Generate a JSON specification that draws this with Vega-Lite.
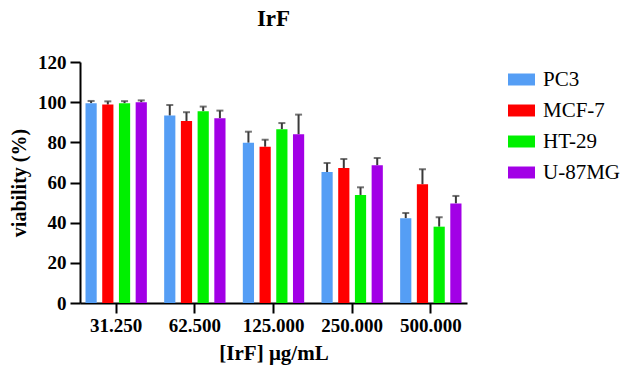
{
  "$schema": "https://vega.github.io/schema/vega-lite/v6.json",
  "autosize": {"type": "none"},
  "width": 387,
  "height": 241,
  "padding": {"left": 80, "top": 62, "right": 161, "bottom": 64},
  "title": {"text": "IrF", "font": "Liberation Serif", "fontSize": 23, "fontWeight": "bold", "color": "black", "anchor": "middle", "frame": "group", "baseline": "bottom", "offset": -1},
  "data": {
    "values": [
      {"conc": "31.250", "cell": "PC3", "v": 99.5, "hi": 100.6},
      {"conc": "31.250", "cell": "MCF-7", "v": 98.8, "hi": 100.4},
      {"conc": "31.250", "cell": "HT-29", "v": 99.5, "hi": 100.5},
      {"conc": "31.250", "cell": "U-87MG", "v": 100.0, "hi": 100.9},
      {"conc": "62.500", "cell": "PC3", "v": 93.3, "hi": 98.6},
      {"conc": "62.500", "cell": "MCF-7", "v": 90.6, "hi": 95.0},
      {"conc": "62.500", "cell": "HT-29", "v": 95.5, "hi": 97.8},
      {"conc": "62.500", "cell": "U-87MG", "v": 92.0, "hi": 95.8},
      {"conc": "125.000", "cell": "PC3", "v": 79.8, "hi": 85.3},
      {"conc": "125.000", "cell": "MCF-7", "v": 77.8, "hi": 81.3},
      {"conc": "125.000", "cell": "HT-29", "v": 86.5, "hi": 89.6},
      {"conc": "125.000", "cell": "U-87MG", "v": 84.0, "hi": 93.8},
      {"conc": "250.000", "cell": "PC3", "v": 65.2, "hi": 69.7},
      {"conc": "250.000", "cell": "MCF-7", "v": 67.2, "hi": 71.7},
      {"conc": "250.000", "cell": "HT-29", "v": 53.8, "hi": 57.6},
      {"conc": "250.000", "cell": "U-87MG", "v": 68.6, "hi": 72.2},
      {"conc": "500.000", "cell": "PC3", "v": 42.2, "hi": 44.8},
      {"conc": "500.000", "cell": "MCF-7", "v": 59.1, "hi": 66.6},
      {"conc": "500.000", "cell": "HT-29", "v": 38.0, "hi": 42.7},
      {"conc": "500.000", "cell": "U-87MG", "v": 49.6, "hi": 53.3}
    ]
  },
  "encoding": {
    "x": {
      "field": "conc", "type": "nominal", "sort": ["31.250", "62.500", "125.000", "250.000", "500.000"],
      "scale": {"paddingInner": 0.22, "paddingOuter": 0.07},
      "axis": {"title": "[IrF] μg/mL", "labelAngle": 0, "titleFontSize": 21, "titlePadding": 7, "labelPadding": 3}
    },
    "xOffset": {"field": "cell", "type": "nominal", "sort": ["PC3", "MCF-7", "HT-29", "U-87MG"], "scale": {"paddingInner": 0.33, "paddingOuter": 0}}
  },
  "layer": [
    {
      "mark": {"type": "rule", "color": "#3a3a3a", "strokeWidth": 2},
      "encoding": {
        "y": {"field": "v", "type": "quantitative"},
        "y2": {"field": "hi"}
      }
    },
    {
      "mark": {"type": "tick", "color": "#3a3a3a", "thickness": 2, "size": 7},
      "encoding": {
        "y": {"field": "hi", "type": "quantitative"}
      }
    },
    {
      "mark": {"type": "bar"},
      "encoding": {
        "y": {
          "field": "v", "type": "quantitative",
          "scale": {"domain": [0, 120], "nice": false},
          "axis": {"values": [0, 20, 40, 60, 80, 100, 120], "title": "viability (%)", "titleFontSize": 20, "titlePadding": 8, "labelPadding": 4}
        },
        "color": {
          "field": "cell", "type": "nominal",
          "scale": {"domain": ["PC3", "MCF-7", "HT-29", "U-87MG"], "range": ["#559EF5", "#FF0000", "#00F000", "#A200E6"]},
          "legend": {
            "title": null, "orient": "none", "legendX": 428, "legendY": 4,
            "symbolType": "M-1,-0.444L1,-0.444L1,0.444L-1,0.444Z", "symbolSize": 729,
            "symbolStrokeWidth": 0, "symbolOpacity": 1,
            "labelFont": "Liberation Serif", "labelFontSize": 21, "labelColor": "black",
            "labelOffset": 8, "rowPadding": 7, "padding": 0
          }
        }
      }
    }
  ],
  "config": {
    "view": {"stroke": null},
    "font": "Liberation Serif",
    "axis": {
      "grid": false, "domainColor": "black", "domainWidth": 2, "tickColor": "black", "tickWidth": 2, "tickSize": 10,
      "labelFont": "Liberation Serif", "labelFontWeight": "bold", "labelFontSize": 19, "labelColor": "black",
      "titleFont": "Liberation Serif", "titleFontWeight": "bold", "titleColor": "black"
    }
  }
}
